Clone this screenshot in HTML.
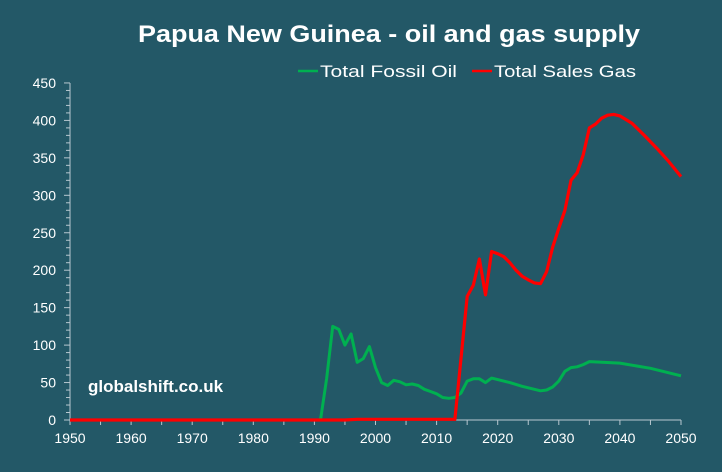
<!DOCTYPE html>
<html><head><meta charset="utf-8"><style>
html,body{margin:0;padding:0;background:#235867;}
svg{display:block;font-family:"Liberation Sans","DejaVu Sans",sans-serif;}
</style></head><body>
<svg id="c" width="722" height="472" xmlns="http://www.w3.org/2000/svg">
<rect width="722" height="472" fill="#235867"/>
<text x="389" y="42" text-anchor="middle" fill="#fff" font-weight="bold" font-size="24" textLength="502" lengthAdjust="spacingAndGlyphs">Papua New Guinea - oil and gas supply</text>
<line x1="298" y1="71" x2="318" y2="71" stroke="#00b050" stroke-width="2.5"/>
<text x="320" y="77" fill="#fff" font-size="17" textLength="137" lengthAdjust="spacingAndGlyphs">Total Fossil Oil</text>
<line x1="472" y1="71" x2="492" y2="71" stroke="#ff0000" stroke-width="2.5"/>
<text x="494" y="77" fill="#fff" font-size="17" textLength="142" lengthAdjust="spacingAndGlyphs">Total Sales Gas</text>
<text x="88" y="392" fill="#fff" font-weight="bold" font-size="17">globalshift.co.uk</text>
<g id="ax" stroke="#b8c8d0" stroke-width="1"></g>
<g id="lab" fill="#fff" font-size="14"></g>
<polyline id="g" fill="none" stroke="#00b050" stroke-width="3" stroke-linejoin="round"/>
<polyline id="r" fill="none" stroke="#ff0000" stroke-width="3.2" stroke-linejoin="round"/>
</svg>
<script>
var NS="http://www.w3.org/2000/svg";
function X(y){return 70+(y-1950)*6.11;}
function Y(v){return 420-v*0.749;}
var ax=document.getElementById('ax'),lab=document.getElementById('lab');
function el(p,t,a){var e=document.createElementNS(NS,t);for(var k in a)e.setAttribute(k,a[k]);p.appendChild(e);return e;}
el(ax,'line',{x1:70,y1:Y(450),x2:70,y2:420});
el(ax,'line',{x1:70,y1:420,x2:681,y2:420});
for(var v=0;v<=450;v+=10){el(ax,'line',{x1:v%50==0?64:66,y1:Y(v),x2:70,y2:Y(v)});}
for(var v=0;v<=450;v+=50){var t=el(lab,'text',{x:56,y:Y(v)+5,'text-anchor':'end'});t.textContent=v;}
for(var y=1950;y<=2050;y+=5){el(ax,'line',{x1:X(y),y1:420,x2:X(y),y2:425});}
for(var y=1950;y<=2050;y+=10){var t=el(lab,'text',{x:X(y),y:443,'text-anchor':'middle'});t.textContent=y;}
var g=[[1950,0],[1991,0],[1992,55],[1993,125],[1994,121],[1995,100],[1996,115],[1997,77],[1998,82],[1999,98],[2000,70],[2001,50],[2002,46],[2003,53],[2004,51],[2005,47],[2006,48],[2007,46],[2008,41],[2009,38],[2010,35],[2011,30],[2012,29],[2013,30],[2014,36],[2015,52],[2016,55],[2017,55],[2018,50],[2019,56],[2020,54],[2022,50],[2024,45],[2026,41],[2027,39],[2028,40],[2029,44],[2030,52],[2031,65],[2032,70],[2033,71],[2034,74],[2035,78],[2040,76],[2045,69],[2050,59]];
var r=[[1950,0],[1995,0],[1997,1],[2005,1],[2013,1],[2015,165],[2016,180],[2017,215],[2018,167],[2019,225],[2020,222],[2021,218],[2022,210],[2023,200],[2024,192],[2025,187],[2026,183],[2027,182],[2028,198],[2029,231],[2030,256],[2031,280],[2032,320],[2033,330],[2034,354],[2035,390],[2036,395],[2037,403],[2038,407],[2039,408],[2040,406],[2042,396],[2044,380],[2046,363],[2048,345],[2050,325]];
function pts(a){return a.map(function(p){return X(p[0]).toFixed(1)+','+Y(p[1]).toFixed(1);}).join(' ');}
document.getElementById('g').setAttribute('points',pts(g));
document.getElementById('r').setAttribute('points',pts(r));
</script>
</body></html>
